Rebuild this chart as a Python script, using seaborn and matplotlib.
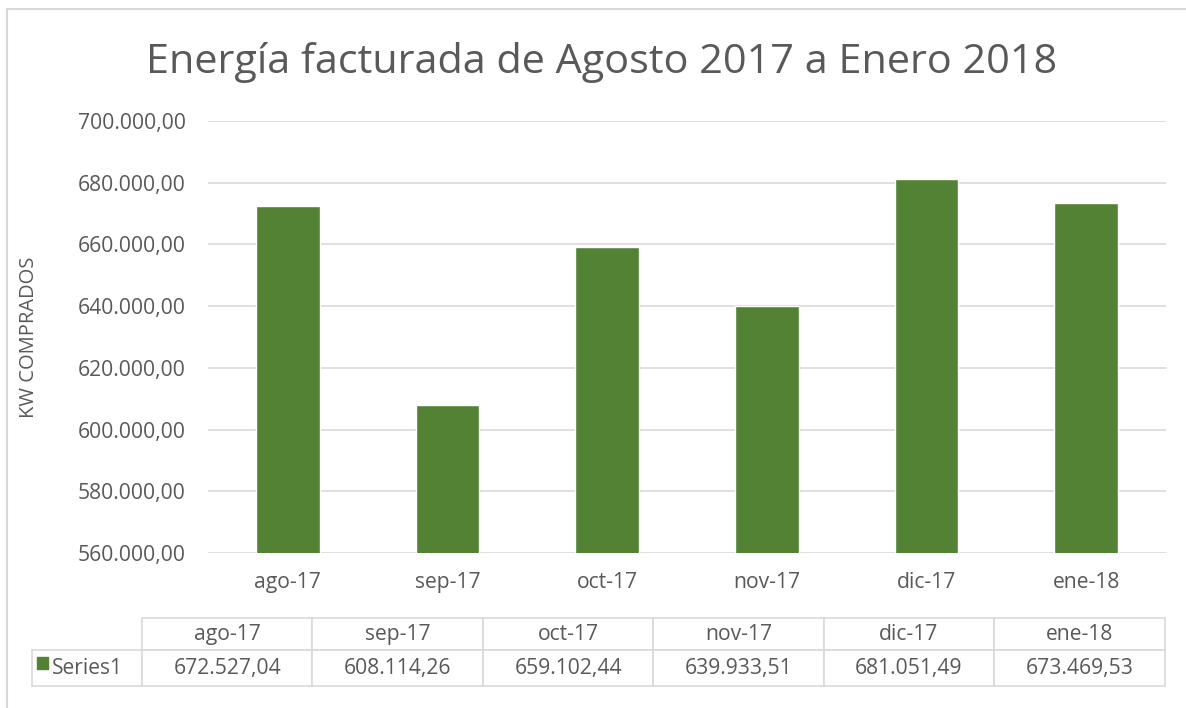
import matplotlib
matplotlib.use("Agg")
import matplotlib.pyplot as plt
import matplotlib.ticker as mticker
from matplotlib.patches import Rectangle
from matplotlib.lines import Line2D
from matplotlib.table import Table
import seaborn as sns
import pandas as pd

# Datos del gráfico
meses = ["ago-17", "sep-17", "oct-17", "nov-17", "dic-17", "ene-18"]
energia = [672527.04, 608114.26, 659102.44, 639933.51, 681051.49, 673469.53]
serie = "Series1"
titulo = "Energía facturada de Agosto 2017 a Enero 2018"
etiqueta_y = "KW COMPRADOS"

verde = "#548235"
gris_texto = "#595959"
gris_linea = "#d9d9d9"
tam = 15.2


def formato_es(v, pos=None):
    s = f"{v:,.2f}"
    return s.replace(",", "X").replace(".", ",").replace("X", ".")


df = pd.DataFrame({"mes": meses, "kw": energia})

sns.set_theme(style="white")
plt.rcParams["font.family"] = ["Open Sans", "DejaVu Sans"]

fig = plt.figure(figsize=(11.86, 7.08), dpi=100)
ax = fig.add_axes([0.1754, 0.2189, 0.8078, 0.6102])

sns.barplot(data=df, x="mes", y="kw", color=verde, saturation=1, width=0.4, ax=ax, zorder=3)

ax.set_ylim(560000, 700000)
ax.set_yticks(range(560000, 700001, 20000))
ax.yaxis.set_major_formatter(mticker.FuncFormatter(formato_es))
ax.grid(axis="y", color=gris_linea, linewidth=1.2, zorder=0)
ax.set_axisbelow(True)
for s in ax.spines.values():
    s.set_visible(False)
ax.tick_params(axis="both", length=0, labelcolor=gris_texto, labelsize=tam)
ax.tick_params(axis="y", pad=16)
ax.tick_params(axis="x", pad=14)
ax.set_xlabel("")
ax.set_ylabel(etiqueta_y, color=gris_texto, fontsize=14.5)
ax.yaxis.set_label_coords(-0.176, 0.5)

fig.text(0.507, 0.912, titulo, ha="center", va="center", fontsize=29.8, color=gris_texto)

# Tabla de datos (columna de leyenda + 6 columnas)
tabla_ax = fig.add_axes([0.027, 0.031, 0.955, 0.096])
tabla_ax.axis("off")
ancho_ley = 110
ancho_col = 170.5
total = ancho_ley + ancho_col * len(meses)
tabla = Table(tabla_ax, bbox=[0, 0, 1, 1])
for i, (m, v) in enumerate(zip(meses, energia)):
    tabla.add_cell(0, i + 1, ancho_col / total, 0.47, text=m, loc="center")
    tabla.add_cell(1, i + 1, ancho_col / total, 0.53, text=formato_es(v), loc="center")
tabla.add_cell(1, 0, ancho_ley / total, 0.53, text=serie, loc="left")
tabla.auto_set_font_size(False)
for (r, c), celda in tabla.get_celld().items():
    celda.set_edgecolor(gris_linea)
    celda.set_linewidth(1.2)
    celda.PAD = 0.02
    celda.get_text().set_color(gris_texto)
    celda.get_text().set_fontsize(tam)
tabla[(1, 0)].PAD = 0.18
tabla_ax.add_table(tabla)

# Marca de leyenda en la tabla
fig.patches.append(Rectangle((37 / 1186, 1 - 669 / 708), 11 / 1186, 12 / 708,
                             transform=fig.transFigure, color=verde, figure=fig))

# Borde del área del gráfico
fig.add_artist(Line2D([7 / 1186, 7 / 1186], [0, 1 - 9 / 708], color=gris_linea, lw=1.5))
fig.add_artist(Line2D([7 / 1186, 1], [1 - 9 / 708, 1 - 9 / 708], color=gris_linea, lw=1.5))

fig.savefig("out.png", dpi=100)
